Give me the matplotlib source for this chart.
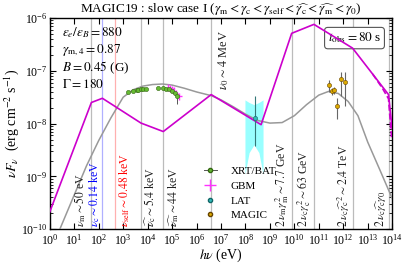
import numpy as np
import matplotlib.pyplot as plt
from matplotlib.ticker import LogLocator, NullLocator
from matplotlib.lines import Line2D

plt.rcParams['font.family'] = ['Liberation Serif', 'DejaVu Serif']
plt.rcParams['mathtext.fontset'] = 'stix'

# --- model curves (log10 eV, log10 erg cm^-2 s^-1) ---
mag_lx = [0.0, 1.70, 2.15, 3.73, 4.64, 6.60, 8.64, 9.89, 10.80, 12.38, 13.85, 14.0]
mag_ly = [-9.67, -7.60, -7.52, -7.99, -8.15, -7.45, -8.02, -6.29, -6.12, -6.57, -7.45, -8.1]
magd_lx = [13.2, 13.6, 13.85, 13.98]
magd_ly = [-7.06, -7.33, -7.53, -8.3]

gray_lx = [0.41, 1.0, 1.5, 2.0, 2.5, 3.0, 3.4, 3.8, 4.2, 4.6, 5.0, 5.5, 6.0, 6.6, 7.0,
           7.5, 8.0, 8.5, 9.0, 9.5, 10.0, 10.5, 11.0, 11.4, 11.8, 12.2, 12.6, 13.0, 13.5, 14.05]
gray_ly = [-10.0, -9.35, -8.80, -8.32, -7.89, -7.50, -7.36, -7.29, -7.26, -7.25, -7.27, -7.33,
           -7.40, -7.47, -7.55, -7.68, -7.82, -7.94, -7.99, -7.98, -7.85, -7.64, -7.46, -7.39,
           -7.43, -7.58, -7.85, -8.35, -8.88, -9.47]

# --- observations ---
xrt_lx = [3.18, 3.41, 3.55, 3.61, 3.71, 3.82, 3.92, 4.43, 4.63, 4.77, 4.87, 4.98, 5.12, 5.19]
xrt_ly = [-7.41, -7.38, -7.36, -7.36, -7.35, -7.34, -7.34, -7.33, -7.33, -7.34, -7.35, -7.38, -7.42, -7.47]

gbm_lx = [4.85, 4.93, 5.00, 5.07, 5.15, 5.30]
gbm_ly = [-7.32, -7.33, -7.35, -7.38, -7.42, -7.48]

lat_lx = [8.39]
lat_ly = [-7.89]
lat_lo = [-8.42]
lat_hi = [-7.48]
band_lx = [7.98, 8.15, 8.35, 8.55, 8.72]
band_hi = [-7.55, -7.60, -7.64, -7.60, -7.55]
band_lo = [-8.96, -8.55, -8.40, -8.55, -8.96]

magic_lx = [11.43, 11.53, 11.62, 11.75, 11.92, 12.06]
magic_ly = [-7.26, -7.39, -7.37, -7.66, -7.16, -7.21]
magic_lo = [-7.40, -7.45, -7.43, -7.92, -7.48, -7.67]
magic_hi = [-7.17, -7.33, -7.31, -7.52, -7.02, -7.02]

# --- characteristic frequencies ---
vl_lx = [1.70, 2.146, 2.68, 3.73, 4.64, 6.60, 9.89, 10.80, 12.38, 13.85]
vl_col = ['#bbbbbb', '#b0b0ff', '#ffb0b0', '#bbbbbb', '#bbbbbb', '#bbbbbb',
          '#bbbbbb', '#bbbbbb', '#bbbbbb', '#bbbbbb']
vl_txt = [r'$\nu_{\rm m} \sim 50$ eV',
          r'$\nu_{\rm c} \sim 0.14$ keV',
          r'$\nu_{\rm self} \sim 0.48$ keV',
          r'$\widehat{\nu_{\rm c}} \sim 5.4$ keV',
          r'$\widehat{\nu_{\rm m}} \sim 44$ keV',
          r'$\nu_0 \sim 4$ MeV',
          r'$2\,\nu_{\rm m}\gamma_{\rm m}^2 \sim 7.7$ GeV',
          r'$2\,\nu_{\rm c}\gamma_{\rm c}^2 \sim 63$ GeV',
          r'$2\,\nu_{\rm c}\widehat{\gamma_{\rm c}}^2 \sim 2.4$ TeV',
          r'$2\,\nu_{\rm c}\widehat{\gamma_{\rm c}}\gamma_0$']
vl_tcol = ['#222222', 'blue', 'red', '#222222', '#222222', '#222222',
           '#222222', '#222222', '#222222', '#222222']
vl_dx = [-0.12, 0.0, 0.1, 0.08, 0.1, 0.2, -0.04, -0.04, -0.04, -0.04]

p = lambda a: 10 ** np.asarray(a, dtype=float)

fig = plt.figure(figsize=(4.15, 2.65), dpi=100)
ax = fig.add_axes([0.120, 0.135, 0.825, 0.797])

for lx, c in zip(vl_lx, vl_col):
    ax.axvline(10 ** lx, color=c, lw=0.9, zorder=1)

ax.fill_between(p(band_lx), p(band_lo), p(band_hi), color='#00ffff', alpha=0.4, lw=0, zorder=2)

ax.plot(p(gray_lx), p(gray_ly), color='#999999', lw=1.1, zorder=3)
ax.plot(p(mag_lx), p(mag_ly), color='#cc00cc', lw=1.2, zorder=4)
ax.plot(p(magd_lx), p(magd_ly), color='#cc00cc', lw=1.2, ls='--', zorder=4)

ax.errorbar(p(xrt_lx), p(xrt_ly), fmt='o', ms=3, mfc='#66bb33', mec='#336611', mew=0.4,
            ecolor='#555555', elinewidth=0.7, zorder=6)
ax.errorbar(p(gbm_lx), p(gbm_ly), xerr=[p(gbm_lx) * 0.2, p(gbm_lx) * 0.25],
            yerr=[p(gbm_ly) * 0.14, p(gbm_ly) * 0.16], fmt='none', ecolor='#ff33ff',
            elinewidth=1.0, zorder=5)
ax.errorbar(p(xrt_lx[-1:]), p(xrt_ly[-1:]), yerr=[[p(xrt_ly[-1]) - p(-7.62)], [0]],
            fmt='none', ecolor='#555555', elinewidth=0.7, zorder=6)
ax.errorbar(p(lat_lx), p(lat_ly),
            yerr=[p(lat_ly) - p(lat_lo), p(lat_hi) - p(lat_ly)],
            fmt='o', ms=3, mfc='#33bbbb', mec='#116666', mew=0.4,
            ecolor='#337777', elinewidth=0.8, zorder=6)
ax.errorbar(p(magic_lx), p(magic_ly),
            yerr=[p(magic_ly) - p(magic_lo), p(magic_hi) - p(magic_ly)],
            fmt='o', ms=3, mfc='#ddaa00', mec='#664400', mew=0.4,
            ecolor='#666666', elinewidth=0.8, zorder=6)

for lx, t, tc, dx in zip(vl_lx, vl_txt, vl_tcol, vl_dx):
    x = 10 ** (lx + dx)
    ha = 'left' if dx > 0 else 'right'
    if t.startswith(r'$\nu_0'):
        ax.text(x, 10 ** (-6.22), t, rotation=90, ha=ha, va='top', color=tc, fontsize=9)
    else:
        ax.text(x, 10 ** (-9.96), t, rotation=90, ha=ha, va='bottom', color=tc, fontsize=8.5)

params = [r'$\epsilon_e/\epsilon_B = 880$', r'$\gamma_{\rm m,4} = 0.87$',
          r'$B = 0.45$ (G)', r'$\Gamma = 180$']
for i, t in enumerate(params):
    ax.text(0.035, 0.93 - i * 0.082, t, transform=ax.transAxes, fontsize=9.5, va='center')

ax.text(0.89, 0.905, r'$t_{\rm obs} = 80$ s', transform=ax.transAxes, fontsize=9.5,
        ha='center', va='center',
        bbox=dict(boxstyle='round,pad=0.25', fc='white', ec='#555555', lw=0.8))

handles = [
    Line2D([], [], marker='o', ms=3, mfc='#66bb33', mec='#336611', color='#555555', lw=0.7),
    Line2D([], [], marker='+', ms=9, color='#ff33ff', lw=0, mew=1.0),
    Line2D([], [], marker='o', ms=3, mfc='#33bbbb', mec='#116666', lw=0),
    Line2D([], [], marker='o', ms=3, mfc='#ddaa00', mec='#664400', lw=0),
]
ax.legend(handles, ['XRT/BAT', 'GBM', 'LAT', 'MAGIC'], loc='lower left',
          bbox_to_anchor=(0.42, -0.005), frameon=False, fontsize=8,
          handlelength=1.2, handletextpad=1.2, labelspacing=0.45)

ax.set_xscale('log')
ax.set_yscale('log')
ax.set_xlim(1, 1e14)
ax.set_ylim(1e-10, 1e-6)
ax.xaxis.set_major_locator(LogLocator(base=10, numticks=20))
ax.xaxis.set_minor_locator(NullLocator())
ax.yaxis.set_minor_locator(LogLocator(base=10, subs=np.arange(2, 10), numticks=20))
ax.tick_params(which='both', direction='in', top=True, right=True, labelsize=8.5)
ax.tick_params(axis='x', pad=3)
ax.tick_params(axis='y', pad=2)
ax.tick_params(which='major', length=4)
ax.tick_params(which='minor', length=2)
for sp in ax.spines.values():
    sp.set_linewidth(1.0)

ax.set_xlabel(r'$h\nu$ (eV)', fontsize=10, labelpad=-1)
ax.set_ylabel(r'$\nu F_\nu$  (erg cm$^{-2}$ s$^{-1}$)', fontsize=10, labelpad=0)
ax.set_title(r'MAGIC19 : slow case I ($\gamma_{\rm m} < \gamma_{\rm c} < \gamma_{\rm self}'
             r' < \widehat{\gamma_{\rm c}} < \widehat{\gamma_{\rm m}} < \gamma_0$)',
             fontsize=9.5, pad=2)

fig.savefig('out.png', dpi=100)
